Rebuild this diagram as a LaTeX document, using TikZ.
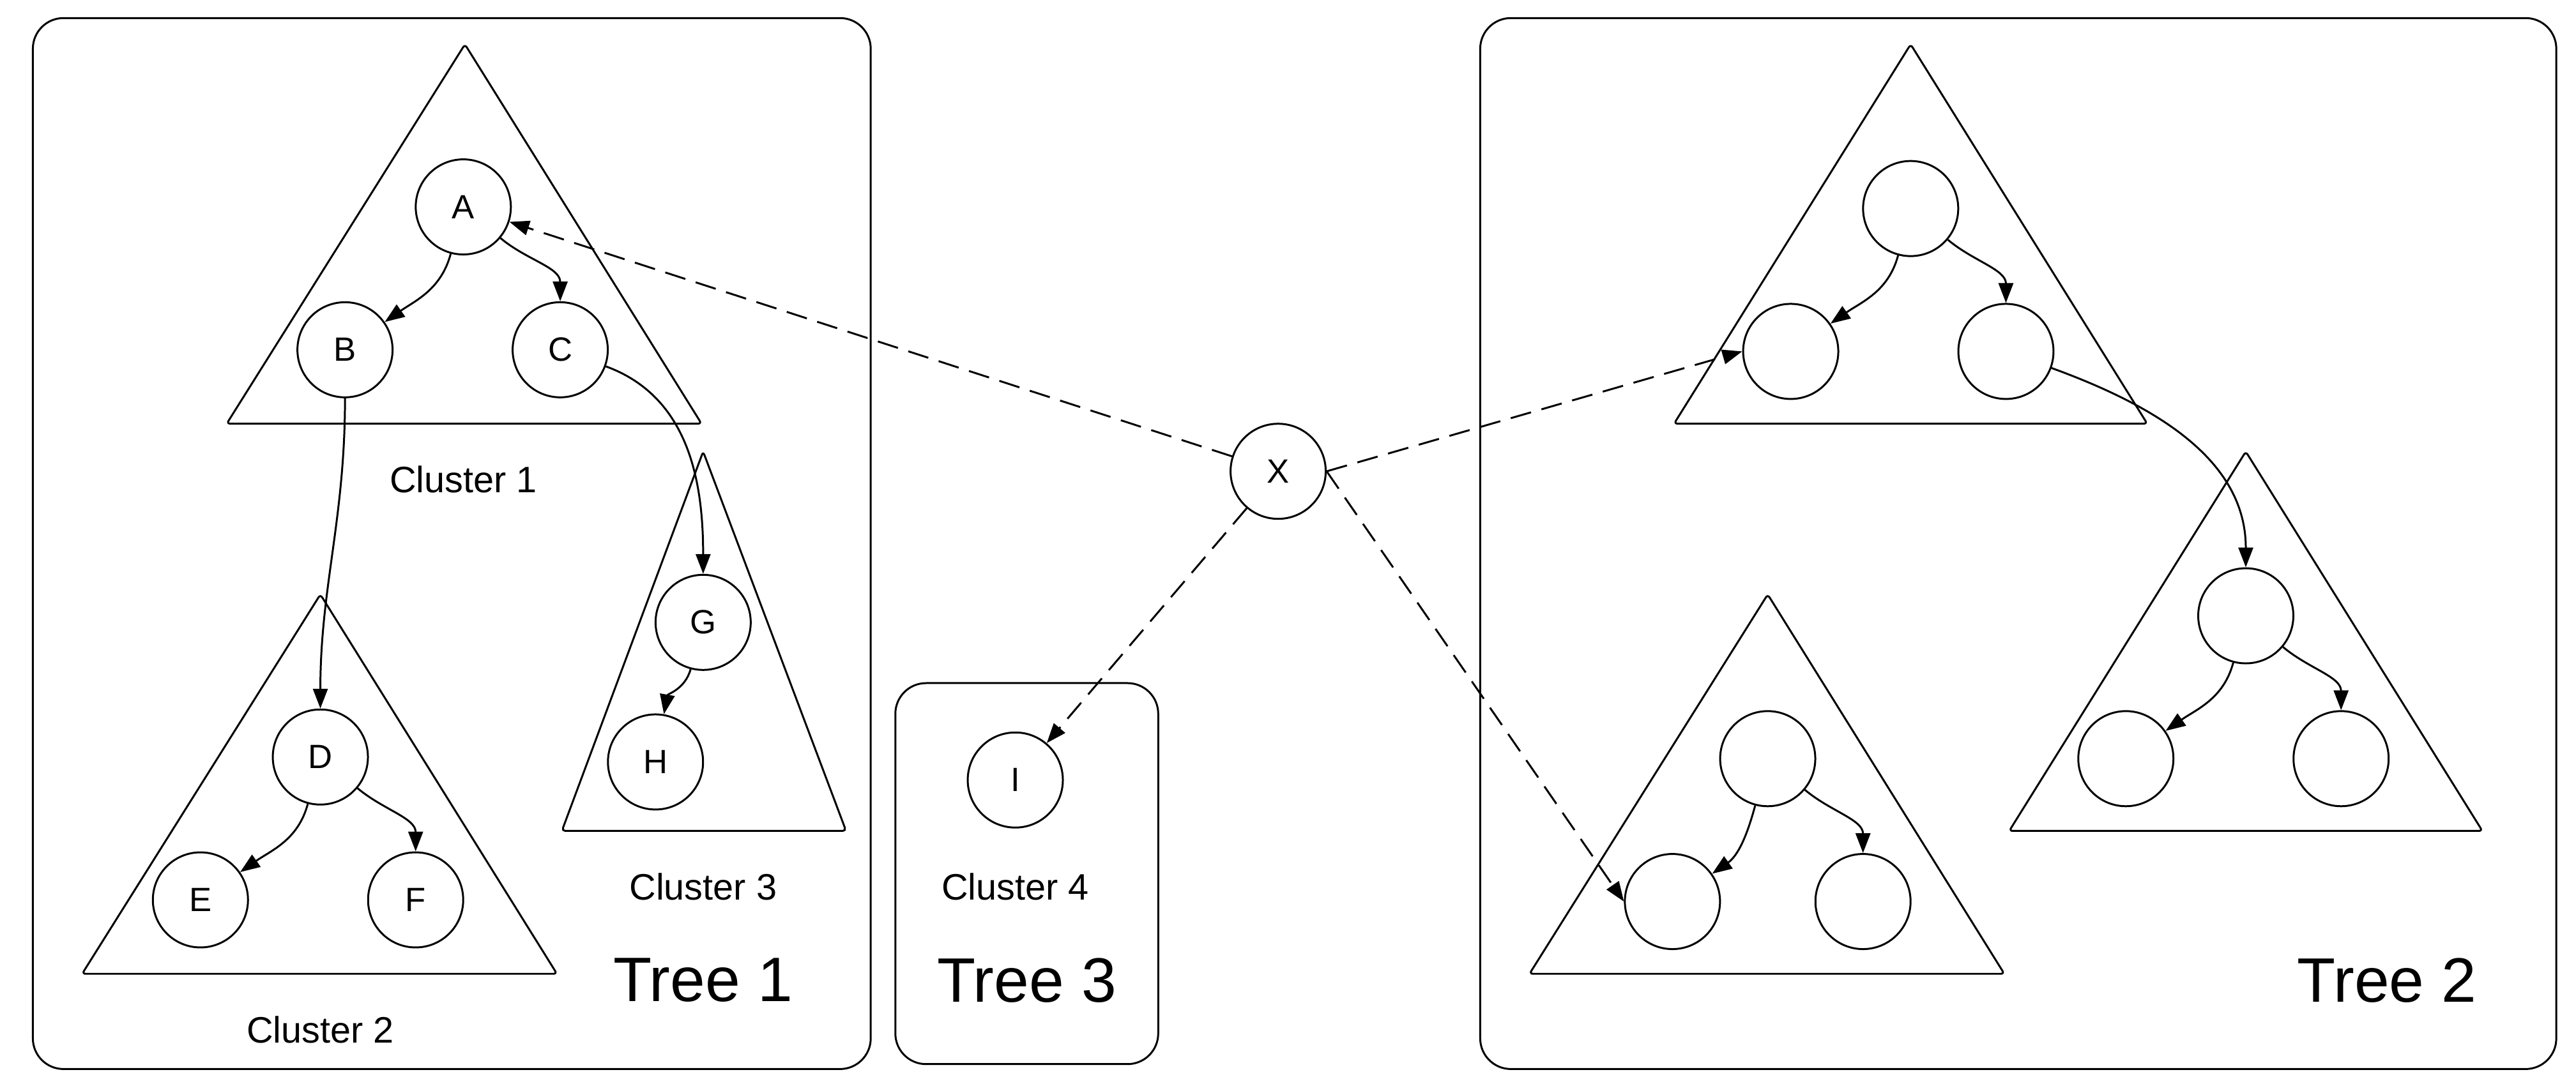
\documentclass[tikz,border=0pt]{standalone}
\usepackage{fontspec}
\setmainfont{Liberation Sans}
\usetikzlibrary{arrows.meta,positioning}
\tikzset{>={Triangle[length=3.1mm,width=2.3mm]}}

\begin{document}
\begin{tikzpicture}[x=0.02572cm, y=-0.02572cm, line width=0.85pt]
  % Styles
  \tikzset{
    vert/.style={circle,draw,minimum size=1.49cm,inner sep=0pt,font=\fontsize{15}{18}\selectfont},
    tri/.style={rounded corners=1.5pt},
    box/.style={rounded corners=0.48cm},
    clab/.style={font=\fontsize{16.4}{19}\selectfont},
    tlab/.style={font=\fontsize{28}{33}\selectfont},
    link/.style={->,dash pattern=on 0.33cm off 0.17cm}
  }
  \useasboundingbox (0,0) rectangle (1568,661);

  %================= BOXES =================
  \draw[box] (20,11) rectangle (530,651);
  \draw[box] (545,416) rectangle (705,648);
  \draw[box] (901,11) rectangle (1556,651);

  %================= TREE 1 =================
  \draw[tri] (283,27) -- (427,258) -- (138,258) -- cycle;
  \draw[tri] (195,362) -- (339,593) -- (50,593) -- cycle;
  \draw[tri] (428,275) -- (515,506) -- (342,506) -- cycle;

  \node[vert] (A) at (282,126) {A};
  \node[vert] (B) at (210,213) {B};
  \node[vert] (C) at (341,213) {C};
  \node[vert] (D) at (195,461) {D};
  \node[vert] (E) at (122,548) {E};
  \node[vert] (F) at (253,548) {F};
  \node[vert] (G) at (428,379) {G};
  \node[vert] (H) at (399,464) {H};

  \node[clab] (lab1) at (282,292) {Cluster 1};
  \node[clab] (lab2) at (195,627) {Cluster 2};
  \node[clab] (lab3) at (428,540) {Cluster 3};
  \node[tlab] (tree1) at (428,597) {Tree 1};

  \draw[->] (A) to[out=-105,in=35] (B);
  \draw[->] (A) to[out=-40,in=90] (C);
  \draw[->] (B) to[out=-90,in=90] (D);
  \draw[->] (C) to[out=-20,in=90] (G);
  \draw[->] (G) to[out=-105,in=80] (H);
  \draw[->] (D) to[out=-105,in=35] (E);
  \draw[->] (D) to[out=-40,in=90] (F);

  %================= TREE 3 =================
  \node[vert] (I) at (618,475) {I};
  \node[clab] (lab4) at (618,540) {Cluster 4};
  \node[tlab] (tree3) at (625,597) {Tree 3};

  %================= TREE 2 =================
  \draw[tri] (1163,27) -- (1307,258) -- (1019,258) -- cycle;
  \draw[tri] (1367,275) -- (1511,506) -- (1223,506) -- cycle;
  \draw[tri] (1076,362) -- (1220,593) -- (931,593) -- cycle;

  \node[vert] (T2-a) at (1163,127) {};
  \node[vert] (T2-b) at (1090,214) {};
  \node[vert] (T2-c) at (1221,214) {};
  \node[vert] (T2-d) at (1367,375) {};
  \node[vert] (T2-e) at (1294,462) {};
  \node[vert] (T2-f) at (1425,462) {};
  \node[vert] (T2-g) at (1076,462) {};
  \node[vert] (T2-h) at (1018,549) {};
  \node[vert] (T2-i) at (1134,549) {};

  \node[tlab] (tree2) at (1453,597) {Tree 2};

  \draw[->] (T2-a) to[out=-105,in=35] (T2-b);
  \draw[->] (T2-a) to[out=-40,in=90] (T2-c);
  \draw[->] (T2-c) to[out=-20,in=90] (T2-d);
  \draw[->] (T2-d) to[out=-105,in=35] (T2-e);
  \draw[->] (T2-d) to[out=-40,in=90] (T2-f);
  \draw[->] (T2-g) to[out=-105,in=35] (T2-h);
  \draw[->] (T2-g) to[out=-40,in=90] (T2-i);

  %================= X =================
  \node[vert] (X) at (778,287) {X};
  \draw[link] (X) -- (A);
  \draw[link] (X) -- (I);
  \draw[link] (X.east) -- (T2-b.west);
  \draw[link] (X.east) -- (T2-h.west);

\end{tikzpicture}
\end{document}
